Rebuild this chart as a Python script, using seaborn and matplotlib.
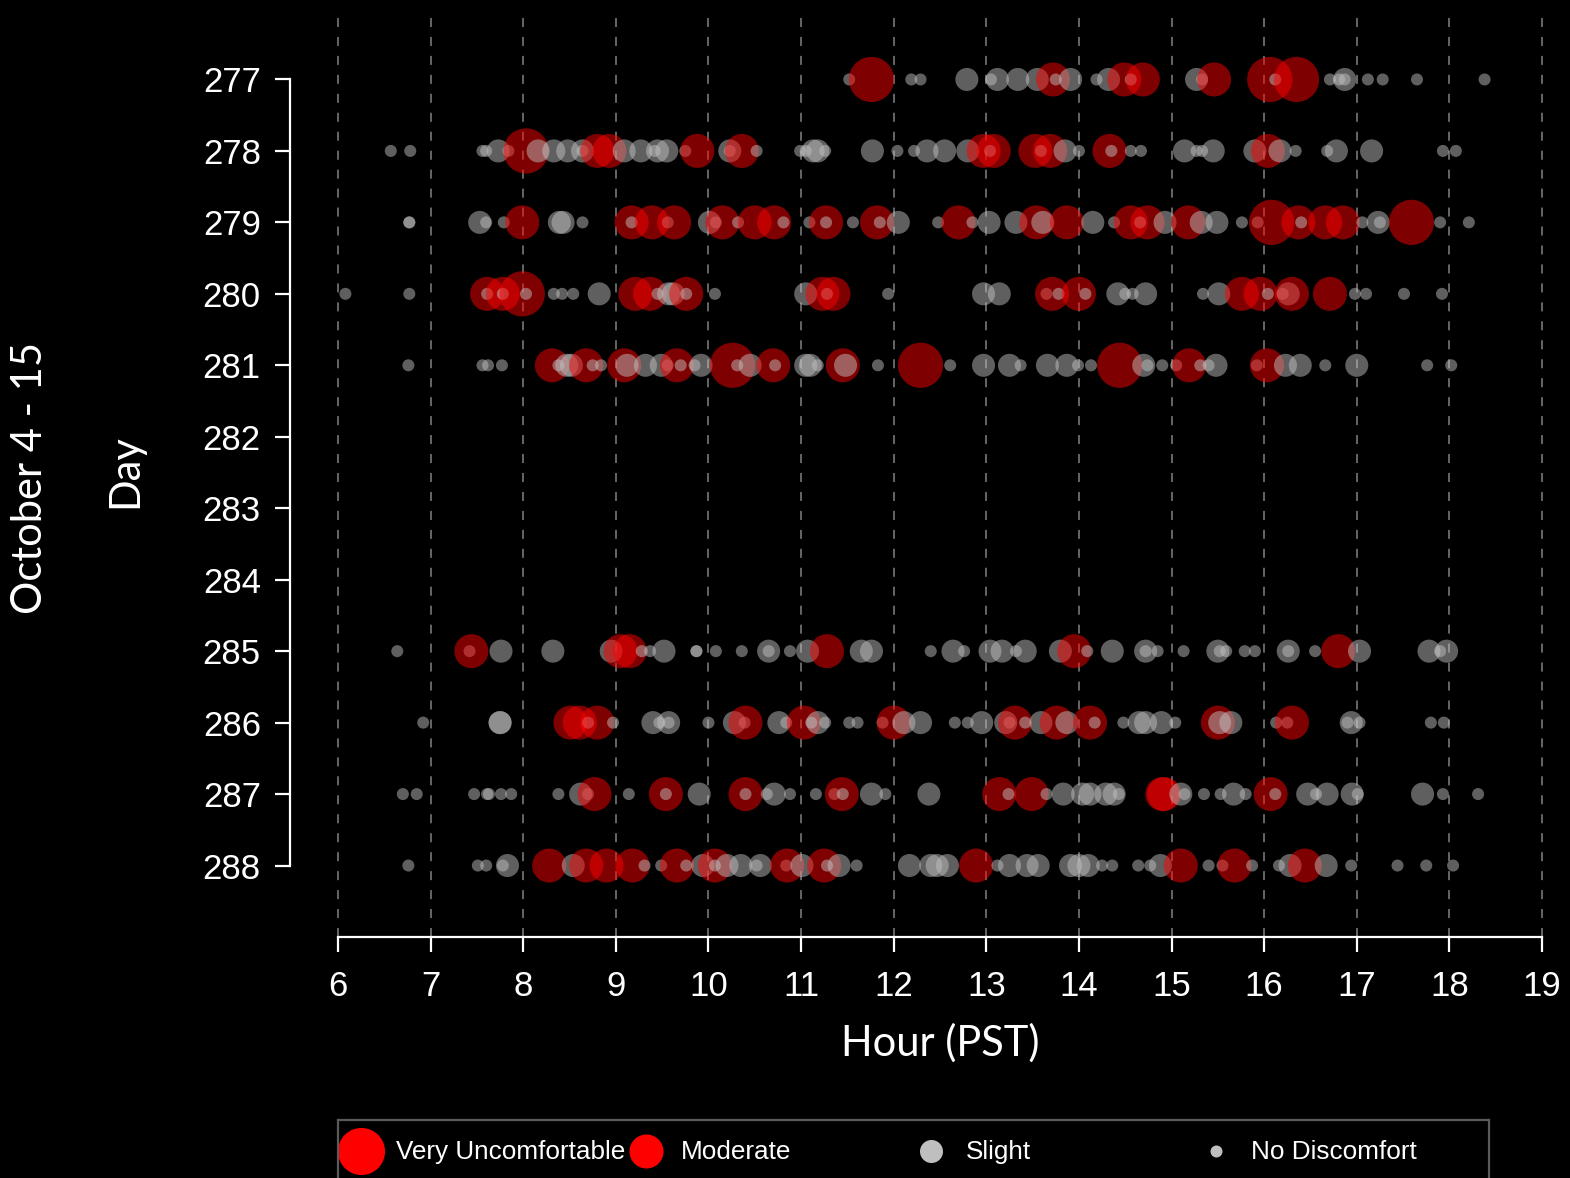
import matplotlib
matplotlib.use("Agg")
import matplotlib.pyplot as plt
import numpy as np
import pandas as pd
import seaborn as sns

# ---------------- data ----------------
days = [277, 278, 279, 280, 281, 285, 286, 287, 288]
day_ticks = list(range(277, 289))
hour_ticks = list(range(6, 20))

levels_order = ["Very Uncomfortable", "Moderate", "Slight", "No Discomfort"]
level_codes = {"V": "Very Uncomfortable", "M": "Moderate", "S": "Slight", "N": "No Discomfort"}

h277 = [11.52, 11.76, 12.19, 12.29, 12.79, 13.05, 13.12, 13.34, 13.55, 13.72, 13.75, 13.91, 14.19, 14.32,
        14.49, 14.56, 14.69, 15.27, 15.33, 15.46, 16.06, 16.12, 16.35, 16.71, 16.81, 16.87, 16.87, 17.12,
        17.28, 17.65, 18.38]
l277 = list("NVNNSNSSSMNSNSMNMSNMVNVNNSNNNNN")

h278 = [6.57, 6.78, 7.56, 7.60, 7.73, 7.84, 8.03, 8.16, 8.33, 8.48, 8.64, 8.64, 8.80, 8.93, 9.09, 9.27,
        9.42, 9.45, 9.55, 9.75, 9.88, 10.23, 10.23, 10.36, 10.52, 10.99, 11.05, 11.13, 11.18, 11.26, 11.77,
        12.04, 12.22, 12.36, 12.55, 12.80, 12.97, 13.04, 13.08, 13.53, 13.59, 13.69, 13.85, 14.00, 14.33,
        14.35, 14.56, 14.67, 15.14, 15.27, 15.33, 15.45, 15.90, 16.04, 16.17, 16.34, 16.68, 16.78, 17.16,
        17.93, 18.07]
l278 = list("NNNNSNVSSSSNMMSSNSSNMSNMNNNSSNSNNSSSMNMMNMSNMNNNSNNSSMSNNSSNN")

h279 = [6.77, 6.77, 7.53, 7.60, 7.79, 7.99, 8.39, 8.43, 8.64, 9.17, 9.17, 9.39, 9.56, 9.63, 10.01, 10.08,
        10.15, 10.32, 10.50, 10.71, 10.81, 11.09, 11.27, 11.27, 11.56, 11.82, 11.85, 12.05, 12.48, 12.70,
        12.85, 13.03, 13.32, 13.54, 13.61, 13.87, 14.15, 14.38, 14.56, 14.66, 14.74, 14.93, 15.18, 15.32,
        15.49, 15.76, 15.93, 16.08, 16.37, 16.40, 16.66, 16.85, 17.06, 17.23, 17.25, 17.59, 17.90, 18.21]
l279 = list("NNSNNMSSNMNMNMSNMNMMNNMNNMNSNMNSSMSMSNMNMSMSSNNVMNMMNSNVNN")

h280 = [6.08, 6.77, 7.61, 7.61, 7.78, 7.78, 7.99, 8.03, 8.33, 8.42, 8.54, 8.82, 9.21, 9.37, 9.45, 9.57,
        9.62, 9.76, 9.76, 10.07, 11.05, 11.23, 11.28, 11.35, 11.94, 12.97, 13.14, 13.65, 13.71, 13.78, 14.00,
        14.07, 14.42, 14.50, 14.58, 14.72, 15.34, 15.51, 15.76, 15.96, 16.04, 16.20, 16.26, 16.30, 16.71,
        16.98, 17.10, 17.51, 17.92]
l280 = list("NNMNMNVNNNNSMMNSSMNNSMNMNSSNMNMNSNNSNSMMNNSMMNNNN")

h281 = [6.76, 7.56, 7.62, 7.77, 8.31, 8.38, 8.47, 8.52, 8.68, 8.75, 8.84, 9.09, 9.12, 9.32, 9.49, 9.56,
        9.66, 9.70, 9.85, 9.92, 10.26, 10.31, 10.45, 10.70, 10.72, 11.05, 11.10, 11.18, 11.45, 11.48, 11.83,
        12.29, 12.61, 12.97, 13.25, 13.37, 13.66, 13.87, 13.99, 14.13, 14.44, 14.70, 14.74, 14.90, 15.05,
        15.19, 15.31, 15.40, 15.48, 15.92, 16.03, 16.23, 16.39, 16.66, 17.00, 17.76, 18.02]
l281 = list("NNNNMNSSMNNMSSSNMNNSVNSMNSSNMSNVNSSNSSNNVSNNNMNNSNMSSNSNN")

h285 = [6.64, 7.42, 7.44, 7.76, 8.32, 8.95, 9.05, 9.15, 9.28, 9.37, 9.52, 9.87, 9.87, 10.08, 10.36, 10.65,
        10.65, 10.88, 11.07, 11.28, 11.65, 11.76, 12.40, 12.64, 12.76, 13.04, 13.17, 13.32, 13.42, 13.80,
        13.95, 14.09, 14.36, 14.72, 14.72, 14.85, 15.13, 15.50, 15.52, 15.59, 15.79, 15.90, 16.26, 16.26,
        16.55, 16.80, 17.03, 17.78, 17.90, 17.97]
l285 = list("NNMSSSMMNNSNNNNSNNSMSSNSNSSNSSMNSSNNNSNNNNSNNMSSNS")

h286 = [6.92, 7.75, 7.75, 8.51, 8.61, 8.70, 8.80, 8.97, 9.40, 9.47, 9.57, 9.57, 10.00, 10.28, 10.39, 10.40,
        10.76, 10.84, 11.03, 11.11, 11.18, 11.26, 11.52, 11.61, 11.88, 12.00, 12.11, 12.29, 12.66, 12.80,
        12.95, 13.21, 13.25, 13.31, 13.42, 13.59, 13.76, 13.87, 14.12, 14.17, 14.48, 14.65, 14.72, 14.89,
        15.04, 15.50, 15.52, 15.64, 16.13, 16.25, 16.30, 16.90, 16.94, 17.03, 17.80, 17.94]
l286 = list("NSSMMNMNSNSNNSNMSNMNSNNNNMSSNNSSNMNSMSMNNSSSNMSSNNMNSNNN")

h287 = [6.70, 6.85, 7.47, 7.61, 7.63, 7.76, 7.87, 8.38, 8.62, 8.70, 8.77, 9.14, 9.54, 9.54, 9.90, 10.40,
        10.40, 10.63, 10.71, 10.88, 11.16, 11.36, 11.44, 11.45, 11.76, 11.91, 12.38, 13.14, 13.24, 13.49,
        13.65, 13.83, 14.04, 14.12, 14.29, 14.38, 14.43, 14.90, 14.92, 15.10, 15.14, 15.35, 15.53, 15.67,
        15.80, 16.07, 16.12, 16.47, 16.56, 16.68, 16.95, 17.01, 17.71, 17.93, 18.31]
l287 = list("NNNNNNNNSNMNMNSMNNSNNNMNSNSMNMNSSSSSNMMSNNNSNMNSNSSNSNN")

h288 = [6.76, 7.51, 7.60, 7.78, 7.83, 8.28, 8.54, 8.68, 8.90, 9.18, 9.31, 9.49, 9.66, 9.76, 9.94, 10.07,
        10.07, 10.20, 10.35, 10.52, 10.56, 10.84, 10.85, 11.01, 11.25, 11.28, 11.41, 11.60, 12.17, 12.40,
        12.47, 12.58, 12.89, 13.12, 13.25, 13.44, 13.56, 13.91, 14.00, 14.10, 14.25, 14.36, 14.64, 14.77,
        14.88, 15.10, 15.40, 15.55, 15.68, 15.87, 16.16, 16.28, 16.44, 16.67, 16.94, 17.44, 17.75, 18.04]
l288 = list("NNNNSMSMMMNNMNSMNSSNSNMSMNSNSSSSMNSSSSSSNNNNSMNNMNNSMSNNNN")

hour_lists = [h277, h278, h279, h280, h281, h285, h286, h287, h288]
level_lists = [l277, l278, l279, l280, l281, l285, l286, l287, l288]

# ---------------- styling ----------------
palette = {"Very Uncomfortable": "#ff0000", "Moderate": "#ff0000",
           "Slight": "#bfbfbf", "No Discomfort": "#bfbfbf"}
sizes = {"Very Uncomfortable": 1060, "Moderate": 600, "Slight": 275, "No Discomfort": 75}

records = []
for d, hs, ls in zip(days, hour_lists, level_lists):
    for h, c in zip(hs, ls):
        records.append({"day": d, "hour": h, "level": level_codes[c]})
df = pd.DataFrame(records)

sns.set_theme(style="dark")
plt.rcParams["font.family"] = ["Liberation Sans", "DejaVu Sans"]
plt.rcParams["axes.facecolor"] = "black"
plt.rcParams["figure.facecolor"] = "black"

W, H = 1570, 1178
fig = plt.figure(figsize=(W / 100, H / 100), dpi=100)
ax = fig.add_axes([290 / W, 1 - 937 / H, (W - 290) / W, 929 / H])
ax.set_facecolor("black")

for h in hour_ticks:
    ax.axvline(h, color="#6e6e6e", lw=1.3, ls=(0, (5, 5.5)), zorder=0)

sns.scatterplot(data=df, x="hour", y="day", hue="level", size="level",
                palette=palette, sizes=sizes, hue_order=levels_order, size_order=levels_order,
                alpha=0.5, linewidth=0, edgecolor="none", legend=False, ax=ax, zorder=3)

x_left = 6 - 48 / 92.62
x_right = 19 + 28 / 92.62
ax.set_xlim(x_left, x_right)
ax.set_ylim(289, 276)
ax.set_xticks(hour_ticks)
ax.set_yticks(day_ticks)
ax.set_xticklabels([str(h) for h in hour_ticks])
ax.set_yticklabels([str(d) for d in day_ticks])
ax.set_xlabel("")
ax.set_ylabel("")
ax.grid(False)

for s in ["top", "right"]:
    ax.spines[s].set_visible(False)
for s in ["left", "bottom"]:
    ax.spines[s].set_visible(True)
    ax.spines[s].set_color("white")
    ax.spines[s].set_linewidth(1.6)
ax.spines["left"].set_bounds(277, 288)
ax.spines["bottom"].set_bounds(6, 19)
ax.tick_params(axis="both", colors="white", length=11, width=1.6, labelsize=25,
               labelcolor="white", direction="out")
ax.tick_params(axis="x", bottom=True, pad=13)
ax.tick_params(axis="y", left=True, pad=10)

lab_font = ["Lato", "DejaVu Sans"]
fig.text(940 / W, 1 - 1043 / H, "Hour (PST)", ha="center", va="center",
         fontsize=30, color="white", family=lab_font)
fig.text(30 / W, 1 - 478 / H, "October 4 - 15", ha="center", va="center",
         rotation=90, fontsize=30, color="white", family=lab_font)
fig.text(125 / W, 1 - 471 / H, "Day", ha="center", va="center",
         rotation=90, fontsize=30, color="white", family=lab_font)

# ---------------- legend ----------------
lax = fig.add_axes([338 / W, 0, (1489 - 338) / W, 58 / H])
lax.set_facecolor("black")
lax.set_xlim(338, 1489)
lax.set_ylim(0, 58)
lax.set_xticks([])
lax.set_yticks([])
for s in ["top", "left", "right"]:
    lax.spines[s].set_visible(True)
    lax.spines[s].set_color("#5a5a5a")
    lax.spines[s].set_linewidth(1.6)
lax.spines["bottom"].set_visible(False)
leg_sizes = {"Very Uncomfortable": 1150, "Moderate": 600, "Slight": 275, "No Discomfort": 75}
for i, lvl in enumerate(levels_order):
    mx = 361 + i * 285
    lax.scatter([mx], [27], s=leg_sizes[lvl], color=palette[lvl], linewidths=0, clip_on=False)
    lax.text(mx + 35, 26, lvl, ha="left", va="center", fontsize=18.8, color="white")

fig.savefig("out.png", dpi=100, facecolor="black")
